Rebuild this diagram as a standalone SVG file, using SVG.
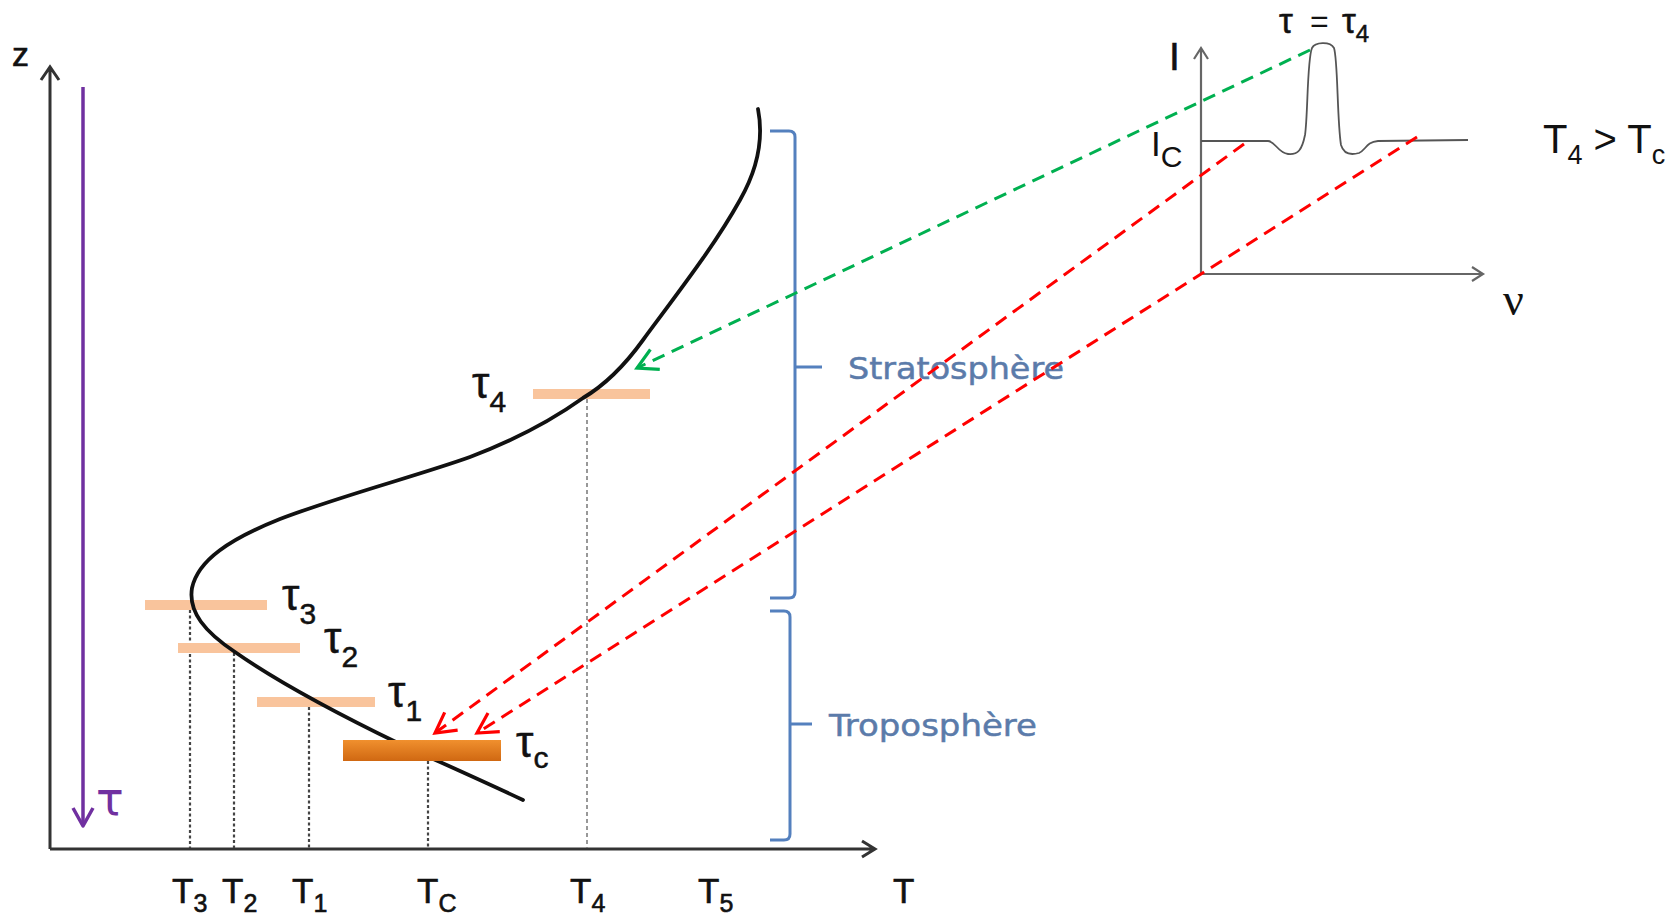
<svg xmlns="http://www.w3.org/2000/svg" width="1673" height="918" viewBox="0 0 1673 918">
<style>
.lbl{font-family:"Liberation Sans",Arial,sans-serif;fill:#111}
.tick{font-family:"Liberation Sans",Arial,sans-serif;fill:#111;stroke:#111;stroke-width:0.6}
.tau{font-family:"Liberation Sans",Arial,sans-serif;fill:#111;stroke:#111;stroke-width:0.5}
.axis{stroke:#333;stroke-width:3;fill:none}
.axis2{stroke:#666;stroke-width:2.2;fill:none}
.drop{stroke:#444;stroke-width:2.2;stroke-dasharray:3 2.5;fill:none}
.drop4{stroke:#777;stroke-width:1.5;stroke-dasharray:4 3;fill:none}
.bar{fill:#F9C49C}
.brace{stroke:#5480BE;stroke-width:3;fill:none}
.layer{font-family:"DejaVu Sans",Verdana,sans-serif;fill:#5B7BAA;stroke:#5B7BAA;stroke-width:0.5}
.red{stroke:#FF0000;stroke-width:3;stroke-dasharray:13 8;fill:none}
.green{stroke:#00B050;stroke-width:3;stroke-dasharray:13 8;fill:none}
</style>
<defs>
<linearGradient id="gc" x1="0" y1="0" x2="0" y2="1">
<stop offset="0" stop-color="#F0902E"/>
<stop offset="1" stop-color="#D06812"/>
</linearGradient>
<marker id="ar" markerUnits="userSpaceOnUse" markerWidth="30" markerHeight="30" viewBox="-25 -15 30 30" refX="0" refY="0" orient="auto">
<path d="M-20,-11 L0,0 L-20,11" fill="none" stroke="#FF0000" stroke-width="3.2"/>
</marker>
<marker id="ag" markerUnits="userSpaceOnUse" markerWidth="30" markerHeight="30" viewBox="-25 -15 30 30" refX="0" refY="0" orient="auto">
<path d="M-20,-11 L0,0 L-20,11" fill="none" stroke="#00B050" stroke-width="3.2"/>
</marker>
</defs>
<rect width="1673" height="918" fill="#fff"/>

<g id="axes">
<path class="axis" d="M50,849 L50,67 M41,80 L50,67 L59,80"/>
<path class="axis" d="M50,849 L875,849 M862,841 L875,849 L862,857"/>
<text class="tick" x="12" y="66" font-size="34">z</text>
<text class="tick" x="893" y="903" font-size="35">T</text>
</g>

<g id="tau-axis">
<path d="M83,87 L83,825" stroke="#7030A0" stroke-width="3.5" fill="none"/>
<path d="M73,808 L83,826 L93,808" stroke="#7030A0" stroke-width="3.5" fill="none" stroke-linejoin="round"/>
<text x="96" y="815" font-size="46" font-family="DejaVu Sans, sans-serif" fill="#7030A0">τ</text>
</g>

<g id="drops">
<path class="drop" d="M190,610 L190,848"/>
<path class="drop" d="M234,653 L234,848"/>
<path class="drop" d="M309,707 L309,848"/>
<path class="drop" d="M428,761 L428,848"/>
<path class="drop4" d="M587,399 L587,848"/>
</g>

<g id="bars">
<rect class="bar" x="145" y="600" width="122" height="10"/>
<rect class="bar" x="178" y="643" width="122" height="10"/>
<rect class="bar" x="257" y="697" width="118" height="10"/>
<rect class="bar" x="533" y="389" width="117" height="10"/>
</g>

<g id="profile">
<path d="M758,109 C763,135 760,165 740,200 C715,245 680,290 643,340 C625,365 605,385 583,398 C555,418 520,438 470,457 C420,475 340,496 280,519 C230,539 198,560 192,588 C188,612 205,632 235,652 C275,680 340,715 400,744 C440,762 485,782 523,800" fill="none" stroke="#111" stroke-width="3.8" stroke-linecap="round"/>
</g>

<g id="tau-c-bar">
<rect x="343" y="740" width="158" height="21" fill="url(#gc)"/>
</g>

<g id="tau-labels">
<text class="tau" x="282" y="610" font-size="44">τ<tspan font-size="30" dy="14">3</tspan></text>
<text class="tau" x="324" y="653" font-size="44">τ<tspan font-size="30" dy="14">2</tspan></text>
<text class="tau" x="388" y="707" font-size="44">τ<tspan font-size="30" dy="14">1</tspan></text>
<text class="tau" x="516" y="757" font-size="44">τ<tspan font-size="30" dy="11">c</tspan></text>
<text class="tau" x="472" y="398" font-size="44">τ<tspan font-size="30" dy="14">4</tspan></text>
</g>

<g id="tick-labels">
<text class="tick" x="172" y="903" font-size="35">T<tspan font-size="25" dy="9">3</tspan></text>
<text class="tick" x="222" y="903" font-size="35">T<tspan font-size="25" dy="9">2</tspan></text>
<text class="tick" x="292" y="903" font-size="35">T<tspan font-size="25" dy="9">1</tspan></text>
<text class="tick" x="417" y="903" font-size="35">T<tspan font-size="25" dy="9">C</tspan></text>
<text class="tick" x="570" y="903" font-size="35">T<tspan font-size="25" dy="9">4</tspan></text>
<text class="tick" x="698" y="903" font-size="35">T<tspan font-size="25" dy="9">5</tspan></text>
</g>

<g id="stratosphere">
<path class="brace" d="M770,131 L789,131 Q795,131 795,137 L795,592 Q795,598 789,598 L770,598 M795,367 L822,367"/>
<text class="layer" x="848" y="379" font-size="31" textLength="216" lengthAdjust="spacingAndGlyphs">Stratosphère</text>
</g>

<g id="troposphere">
<path class="brace" d="M770,611 L784,611 Q790,611 790,617 L790,834 Q790,840 784,840 L770,840 M790,724 L812,724"/>
<text class="layer" x="829" y="736" font-size="31" textLength="208" lengthAdjust="spacingAndGlyphs">Troposphère</text>
</g>

<g id="spectrum">
<path class="axis2" d="M1201,274 L1201,48 M1194,59 L1201,48 L1208,59"/>
<path class="axis2" d="M1201,274 L1483,274 M1472,267 L1483,274 L1472,281"/>
<path d="M1201,141 L1268,141 C1275,141 1278,153 1288,154 C1298,155 1302,150 1305,135 C1308,115 1307,60 1312,48 C1315,42 1330,41 1334,48 C1338,60 1337,120 1341,145 C1344,155 1352,155 1359,153 C1366,150 1366,142 1378,141 L1468,140" fill="none" stroke="#555" stroke-width="1.8"/>
<text class="tick" x="1169" y="70" font-size="39">I</text>
<text class="lbl" x="1151" y="156" font-size="35">I<tspan font-size="30" dy="11">C</tspan></text>
<text x="1503" y="315" font-size="46" font-family="Liberation Serif, serif" fill="#111">ν</text>
<text class="tau" x="1279" y="33" font-size="35">τ</text>
<text class="lbl" x="1310" y="32" font-size="32">=</text>
<text class="tau" x="1342" y="33" font-size="35">τ<tspan font-size="24" dy="9">4</tspan></text>
</g>

<g id="condition">
<text class="lbl" x="1543" y="153" font-size="40">T<tspan font-size="27" dy="11">4</tspan><tspan dy="-11"> &gt; T</tspan><tspan font-size="27" dy="11">c</tspan></text>
</g>

<g id="connectors">
<path class="green" d="M1310,50 L637,368" marker-end="url(#ag)"/>
<path class="red" d="M1244,144 L435,733" marker-end="url(#ar)"/>
<path class="red" d="M1417,137 L477,733" marker-end="url(#ar)"/>
</g>
</svg>
